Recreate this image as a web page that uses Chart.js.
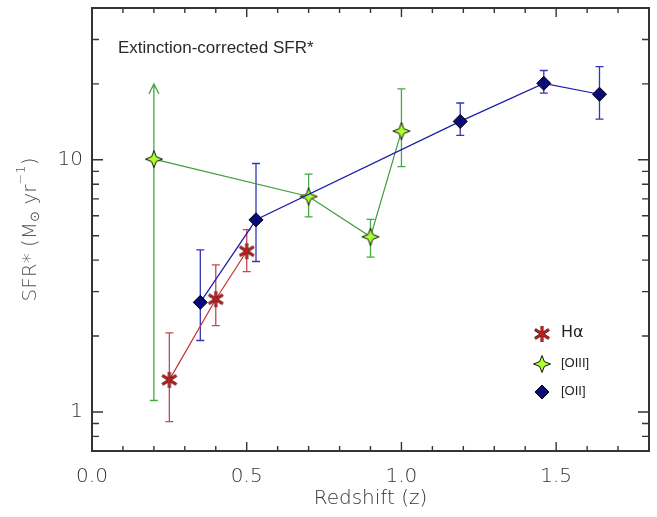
<!DOCTYPE html>
<html>
<head>
<meta charset="utf-8">
<script src="https://cdn.jsdelivr.net/npm/chart.js@4/dist/chart.umd.min.js"></script>
<style>
  html, body { margin: 0; padding: 0; background: #fff; }
  #wrap { width: 657px; height: 517px; position: relative; }
</style>
</head>
<body>
<div id="wrap"><canvas id="sfr"></canvas></div>
<script>
// values
const haZ   = [0.25, 0.40, 0.50];
const haSfr = [1.34, 2.80, 4.34];
const haHi  = [2.06, 3.83, 5.29];
const haLo  = [0.915, 2.20, 3.60];

const oiiiZ   = [0.20, 0.70, 0.90, 1.00];
const oiiiSfr = [10.06, 7.15, 4.95, 13.0];
const oiiiHi  = [20.0, 8.77, 5.80, 19.1];
const oiiiLo  = [1.11, 5.94, 4.11, 9.40];
const oiiiUpArrow = [true, false, false, false];

const oiiZ   = [0.35, 0.53, 1.19, 1.46, 1.64];
const oiiSfr = [2.72, 5.78, 14.2, 20.1, 18.2];
const oiiHi  = [4.39, 9.67, 16.8, 22.6, 23.4];
const oiiLo  = [1.92, 3.95, 12.5, 18.4, 14.5];

const xMajor = [0, 0.5, 1.0, 1.5];
const xMinor = [0.1, 0.2, 0.3, 0.4, 0.6, 0.7, 0.8, 0.9, 1.1, 1.2, 1.3, 1.4, 1.6, 1.7];
const yMajor = [1, 10];
const yMinor = [0.8, 0.9, 2, 3, 4, 5, 6, 7, 8, 9, 20, 30];

const AXIS = '#333333';
const FAMILY = '"DejaVu Sans", sans-serif';

// marker images
function asteriskMarker() {
    const c = document.createElement('canvas');
    c.width = 20; c.height = 18;
    const g = c.getContext('2d');
    const angles = [90, 35, -35];
    const spoke = (w, col) => {
        g.strokeStyle = col; g.lineWidth = w; g.lineCap = 'butt';
        angles.forEach(a => {
            const r = a * Math.PI / 180, dx = Math.cos(r) * 8.5, dy = Math.sin(r) * 8;
            g.beginPath(); g.moveTo(10 - dx, 9 + dy); g.lineTo(10 + dx, 9 - dy); g.stroke();
        });
    };
    spoke(3.0, '#220808');
    spoke(2.0, '#c02020');
    g.fillStyle = '#c02020';
    g.beginPath(); g.arc(10, 9, 2.2, 0, Math.PI * 2); g.fill();
    return c;
}

function starMarker() {
    const c = document.createElement('canvas');
    c.width = 20; c.height = 20;
    const g = c.getContext('2d');
    g.beginPath();
    for (let i = 0; i < 8; i++) {
        const r = i % 2 === 0 ? 8.5 : 3.4;
        const a = i * Math.PI / 4 - Math.PI / 2;
        const px = 10 + Math.cos(a) * r, py = 10 + Math.sin(a) * r;
        i === 0 ? g.moveTo(px, py) : g.lineTo(px, py);
    }
    g.closePath();
    g.fillStyle = '#adff2f'; g.fill();
    g.strokeStyle = '#111'; g.lineWidth = 1; g.stroke();
    return c;
}

const asterisk = asteriskMarker();
const star = starMarker();

const toXY = (xs, ys) => xs.map((x, i) => ({ x: x, y: ys[i] }));

const series = [
    { label: 'H\u03b1', z: haZ, sfr: haSfr, hi: haHi, lo: haLo, line: '#c03030', err: '#c84848', style: asterisk },
    { label: '[OIII]', z: oiiiZ, sfr: oiiiSfr, hi: oiiiHi, lo: oiiiLo, line: '#3c9c3c', err: '#46a846', style: star, arrow: oiiiUpArrow },
    { label: '[OII]', z: oiiZ, sfr: oiiSfr, hi: oiiHi, lo: oiiLo, line: '#1c1ca8', err: '#3434b4', style: 'rectRot' }
];

// vertical error bars with caps, drawn behind the lines
const errorBars = {
    id: 'errorBars',
    beforeDatasetsDraw(chart) {
        const { ctx, scales: { x, y } } = chart;
        ctx.save();
        ctx.lineWidth = 1.3;
        series.forEach(s => {
            ctx.strokeStyle = s.err;
            s.z.forEach((z, i) => {
                const px = x.getPixelForValue(z);
                const top = y.getPixelForValue(s.hi[i]);
                const bot = y.getPixelForValue(s.lo[i]);
                ctx.beginPath();
                ctx.moveTo(px, bot); ctx.lineTo(px, top);
                ctx.moveTo(px - 4, bot); ctx.lineTo(px + 4, bot);
                if (s.arrow && s.arrow[i]) {
                    ctx.moveTo(px - 5, top + 10); ctx.lineTo(px, top); ctx.lineTo(px + 5, top + 10);
                } else {
                    ctx.moveTo(px - 4, top); ctx.lineTo(px + 4, top);
                }
                ctx.stroke();
            });
        });
        ctx.restore();
    }
};

// y title with subscript sun symbol and superscript -1
function drawYTitle(ctx, cx, cy) {
    const parts = [
        { t: 'SFR* (M', size: 20, dy: 0 },
        { t: '\u2299', size: 13, dy: 5 },
        { t: ' yr', size: 20, dy: 0 },
        { t: '\u22121', size: 13, dy: -9 },
        { t: ')', size: 20, dy: 0 }
    ];
    let total = 0;
    parts.forEach(p => { ctx.font = '300 ' + p.size + 'px ' + FAMILY; p.w = ctx.measureText(p.t).width; total += p.w; });
    ctx.save();
    ctx.translate(cx, cy);
    ctx.rotate(-Math.PI / 2);
    ctx.textBaseline = 'middle';
    ctx.textAlign = 'left';
    ctx.fillStyle = '#555';
    let px = -total / 2;
    parts.forEach(p => {
        ctx.font = '300 ' + p.size + 'px ' + FAMILY;
        ctx.fillText(p.t, px, p.dy);
        px += p.w;
    });
    ctx.restore();
}

// IDL style frame: box with inward ticks on all four sides, inset label and legend
const frame = {
    id: 'frame',
    afterDraw(chart) {
        const { ctx, chartArea: a, scales: { x, y } } = chart;
        ctx.save();
        ctx.strokeStyle = AXIS;
        ctx.lineWidth = 1.4;
        const tickX = (v, len) => {
            const px = x.getPixelForValue(v);
            ctx.moveTo(px, a.bottom); ctx.lineTo(px, a.bottom - len);
            ctx.moveTo(px, a.top); ctx.lineTo(px, a.top + len);
        };
        const tickY = (v, len) => {
            const py = y.getPixelForValue(v);
            ctx.moveTo(a.left, py); ctx.lineTo(a.left + len, py);
            ctx.moveTo(a.right, py); ctx.lineTo(a.right - len, py);
        };
        ctx.beginPath();
        xMajor.forEach(v => tickX(v, 9));
        xMinor.forEach(v => tickX(v, 5));
        yMajor.forEach(v => tickY(v, 11));
        yMinor.forEach(v => tickY(v, 7));
        ctx.stroke();

        ctx.lineWidth = 2;
        ctx.strokeRect(a.left, a.top, a.right - a.left, a.bottom - a.top);

        drawYTitle(ctx, 31, (a.top + a.bottom) / 2);

        ctx.fillStyle = '#2a2a2a';
        ctx.textBaseline = 'middle';
        ctx.textAlign = 'left';
        ctx.font = '17px "Liberation Sans", Arial, sans-serif';
        ctx.fillText('Extinction-corrected SFR*', 118, 48);

        // legend
        const lx = 542, rows = [334, 364, 392];
        const fonts = ['16px ' + FAMILY, '13px "Liberation Sans", sans-serif', '13px "Liberation Sans", sans-serif'];
        series.forEach((s, i) => {
            const cy = rows[i];
            if (s.style === 'rectRot') {
                ctx.beginPath();
                ctx.moveTo(lx - 7, cy); ctx.lineTo(lx, cy - 7); ctx.lineTo(lx + 7, cy); ctx.lineTo(lx, cy + 7);
                ctx.closePath();
                ctx.fillStyle = '#0a0a78'; ctx.fill();
                ctx.strokeStyle = '#000'; ctx.lineWidth = 1; ctx.stroke();
            } else {
                ctx.drawImage(s.style, lx - s.style.width / 2, cy - s.style.height / 2);
            }
            ctx.fillStyle = '#222';
            ctx.font = fonts[i];
            ctx.fillText(s.label, 561, cy - 1);
        });
        ctx.restore();
    }
};

const tickFont = { family: FAMILY, size: 20, weight: 300 };

new Chart(document.getElementById('sfr'), {
    type: 'scatter',
    data: {
        datasets: series.map(s => ({
            label: s.label,
            data: toXY(s.z, s.sfr),
            showLine: true,
            borderColor: s.line,
            borderWidth: 1.2,
            pointStyle: s.style,
            pointRadius: 7,
            pointHoverRadius: 7,
            pointBackgroundColor: '#0a0a78',
            pointBorderColor: '#000',
            pointBorderWidth: 1
        })).reverse()
    },
    options: {
        responsive: true,
        maintainAspectRatio: false,
        animation: false,
        layout: { padding: { top: 7, right: 6, left: 0, bottom: 0 } },
        plugins: { legend: { display: false }, tooltip: { enabled: false } },
        scales: {
            x: {
                type: 'linear', min: 0, max: 1.8,
                afterBuildTicks: s => { s.ticks = xMajor.map(v => ({ value: v })); },
                afterFit: s => { s.height = 66; s.paddingLeft = 0; s.paddingRight = 0; },
                grid: { display: false, drawTicks: false },
                border: { display: false },
                ticks: { color: AXIS, font: tickFont, padding: 14, callback: v => v.toFixed(1) },
                title: { display: true, text: 'Redshift (z)', color: AXIS, font: tickFont, padding: { top: 0, bottom: 6 } }
            },
            y: {
                type: 'logarithmic', min: 0.7, max: 40,
                afterBuildTicks: s => { s.ticks = yMajor.map(v => ({ value: v })); },
                afterFit: s => { s.width = 92; s.paddingTop = 0; s.paddingBottom = 0; },
                grid: { display: false, drawTicks: false },
                border: { display: false },
                ticks: { color: AXIS, font: tickFont, padding: 9, callback: v => String(v) },
                title: { display: false }
            }
        }
    },
    plugins: [errorBars, frame]
});
</script>
</body>
</html>
